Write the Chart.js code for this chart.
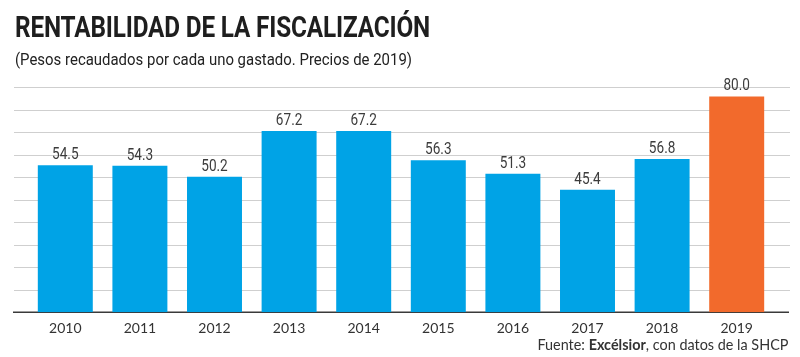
<!DOCTYPE html>
<html>
<head>
<meta charset="utf-8">
<script src="https://cdn.jsdelivr.net/npm/chart.js@4"></script>
<style>
  html, body { margin: 0; padding: 0; background: #ffffff; }
  body { width: 800px; height: 357px; position: relative; overflow: hidden; }
  #title { position: absolute; left: 15px; top: 10px; font-family: "Roboto", "Liberation Sans", sans-serif; font-weight: 700; font-size: 29px; color: #1e1e1e; white-space: nowrap; transform-origin: 0 0; letter-spacing: -0.2px; }
  #subtitle { position: absolute; left: 15px; top: 49px; font-family: "Roboto", "Liberation Sans", sans-serif; font-size: 17px; color: #222; white-space: nowrap; transform-origin: 0 0; }
  #source { position: absolute; right: 12px; top: 335px; font-family: "Lato", "Open Sans", sans-serif; font-size: 15px; color: #333; white-space: nowrap; transform-origin: 100% 0; }
  #wrap { position: absolute; left: 0; top: 0; width: 800px; height: 357px; }
</style>
</head>
<body>
<div id="wrap"><canvas id="c" width="800" height="357"></canvas></div>
<div id="title">RENTABILIDAD DE LA FISCALIZACIÓN</div>
<div id="subtitle">(Pesos recaudados por cada uno gastado. Precios de 2019)</div>
<div id="source">Fuente: <b>Excélsior</b>, con datos de la SHCP</div>
<script>
const categories = ["2010","2011","2012","2013","2014","2015","2016","2017","2018","2019"];
const values = [54.5, 54.3, 50.2, 67.2, 67.2, 56.3, 51.3, 45.4, 56.8, 80.0];
const valueLabels = ["54.5","54.3","50.2","67.2","67.2","56.3","51.3","45.4","56.8","80.0"];

const BLUE = "#00a3e6";
const ORANGE = "#f26a2c";
const barColors = categories.map((c, i) => i === categories.length - 1 ? ORANGE : BLUE);

// fit title/subtitle widths to reference
function fitWidth(id, target) {
  const el = document.getElementById(id);
  const w = el.getBoundingClientRect().width;
  el.style.transform = "scaleX(" + (target / w) + ")";
}
fitWidth("title", 415);
fitWidth("subtitle", 397);
fitWidth("source", 251);

const gridPlugin = {
  id: "extGrid",
  beforeDatasetsDraw(chart) {
    const ctx = chart.ctx;
    const y = chart.scales.y;
    ctx.save();
    y.ticks.forEach((t, i) => {
      const py = Math.round(y.getPixelForValue(t.value)) + 0.5;
      if (i === 0) return;
      ctx.strokeStyle = "#cfcfcf";
      ctx.lineWidth = 1.2;
      ctx.beginPath();
      ctx.moveTo(14, py);
      ctx.lineTo(790, py);
      ctx.stroke();
    });
    const py0 = y.getPixelForValue(0);
    ctx.strokeStyle = "#3a3a3a";
    ctx.lineWidth = 1.5;
    ctx.beginPath();
    ctx.moveTo(13, py0);
    ctx.lineTo(789, py0);
    ctx.stroke();
    ctx.restore();
  },
  afterDatasetsDraw(chart) {
    const ctx = chart.ctx;
    const meta = chart.getDatasetMeta(0);
    meta.data.forEach((bar, i) => {
      ctx.save();
      ctx.font = '17px Roboto, sans-serif';
      ctx.fillStyle = "#3c3c3c";
      ctx.textAlign = "center";
      ctx.textBaseline = "alphabetic";
      ctx.translate(bar.x, bar.y - 6);
      ctx.scale(0.8, 1);
      ctx.fillText(valueLabels[i], 0, 0);
      ctx.restore();
    });
  }
};

new Chart(document.getElementById("c"), {
  type: "bar",
  data: {
    labels: categories,
    datasets: [{
      data: values,
      backgroundColor: barColors,
      borderWidth: 0,
      categoryPercentage: 1.0,
      barPercentage: 0.737
    }]
  },
  options: {
    responsive: false,
    animation: false,
    devicePixelRatio: 1,
    layout: { padding: { left: 28, right: 26, top: 87, bottom: 12 } },
    plugins: { legend: { display: false }, tooltip: { enabled: false } },
    scales: {
      x: {
        grid: { display: false, drawTicks: false },
        border: { display: false },
        ticks: {
          padding: 8,
          color: "#333",
          font: { family: "Lato, 'Open Sans', sans-serif", size: 14 }
        }
      },
      y: {
        min: 0,
        max: 83.5,
        grid: { display: false, drawTicks: false },
        border: { display: false },
        ticks: { display: false, count: 11 }
      }
    }
  },
  plugins: [gridPlugin]
});
</script>
</body>
</html>
